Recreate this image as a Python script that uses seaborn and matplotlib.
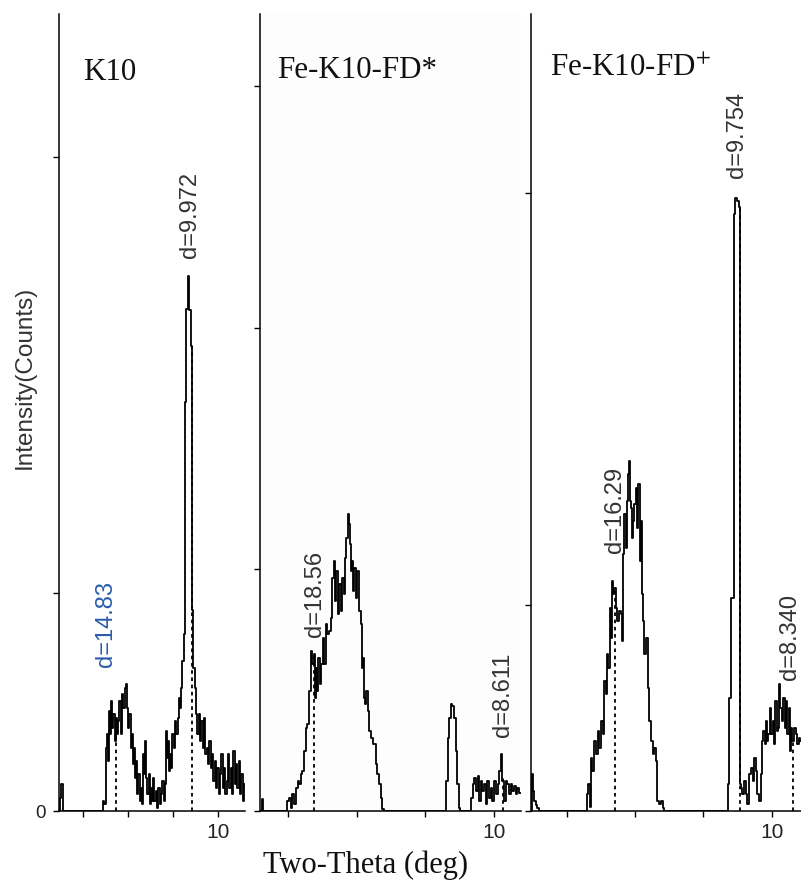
import numpy as np
import pandas as pd
import matplotlib
matplotlib.use("Agg")
import matplotlib.pyplot as plt
from matplotlib import font_manager
import seaborn as sns

# ---------------------------------------------------------------- data ----
# K10
k10_theta = [2.93, 3.01, 3.07, 3.13, 4.83, 4.90, 4.98, 5.02, 5.10, 5.13, 5.17, 5.23,
             5.27, 5.32, 5.38, 5.42, 5.47, 5.53, 5.57, 5.64, 5.70, 5.76, 5.82, 5.88,
             5.94, 5.99, 6.03, 6.09, 6.13, 6.19, 6.24, 6.28, 6.34, 6.39, 6.43, 6.49,
             6.53, 6.58, 6.64, 6.68, 6.73, 6.79, 6.83, 6.89, 6.93, 6.98, 7.04, 7.10,
             7.14, 7.20, 7.26, 7.32, 7.38, 7.44, 7.50, 7.56, 7.60, 7.66, 7.70, 7.75,
             7.81, 7.85, 7.90, 7.94, 8.00, 8.06, 8.12, 8.18, 8.22, 8.28, 8.33, 8.39,
             8.44, 8.50, 8.54, 8.56, 8.61, 8.68, 8.76, 8.83, 8.87, 8.95, 9.01, 9.05,
             9.11, 9.17, 9.23, 9.29, 9.35, 9.41, 9.47, 9.53, 9.59, 9.64, 9.70, 9.76,
             9.82, 9.88, 9.94, 10.00, 10.06, 10.12, 10.18, 10.24, 10.30, 10.36, 10.41,
             10.47, 10.53, 10.59, 10.65, 10.71, 10.77, 10.83, 10.89, 10.95, 11.01,
             11.07, 11.13, 11.20]
k10_counts = [0, 60, 124, 0, 0, 46, 32, 290, 354, 230, 460, 354,
              506, 382, 446, 322, 428, 354, 414, 506, 354, 538, 474, 566,
              584, 474, 382, 446, 290, 354, 216, 290, 152, 230, 78, 170,
              46, 106, 32, 262, 170, 322, 152, 78, 170, 32, 106, 46,
              152, 46, 92, 14, 106, 32, 78, 138, 46, 124, 368, 244,
              322, 184, 262, 198, 354, 290, 414, 354, 428, 520, 474, 566,
              690, 814, 814, 1877, 2305, 2456, 2300, 2134, 920, 658, 566, 446,
              354, 446, 322, 414, 290, 428, 262, 290, 216, 322, 198, 262,
              138, 230, 106, 198, 78, 170, 262, 106, 198, 78, 138,
              262, 106, 198, 78, 276, 124, 216, 106, 230, 78,
              170, 46, 124]

# Fe-K10-FD*
fd_star_theta = [3.17, 3.22, 3.24, 3.27,
                 3.95, 3.98, 4.04, 4.09, 4.14, 4.19, 4.24, 4.29, 4.34, 4.38,
                 4.43, 4.48, 4.53, 4.58, 4.63, 4.68, 4.72, 4.75, 4.79, 4.82,
                 4.85, 4.89, 4.93, 4.97, 5.02, 5.07, 5.11, 5.16, 5.21, 5.26,
                 5.31, 5.34, 5.38, 5.41, 5.46, 5.50, 5.55, 5.60, 5.63, 5.67,
                 5.70, 5.75, 5.78, 5.81, 5.84, 5.87, 5.91, 5.94, 5.99, 6.04,
                 6.09, 6.12, 6.16, 6.18, 6.21, 6.25, 6.29, 6.33, 6.38, 6.43,
                 6.48, 6.53, 6.57, 6.62, 6.67, 6.72, 6.77, 6.82,
                 8.57, 8.62, 8.67, 8.72, 8.76, 8.81, 8.86, 8.91, 8.96, 9.01, 9.03,
                 9.30, 9.35, 9.40, 9.45, 9.50, 9.54, 9.59, 9.64, 9.69, 9.74,
                 9.79, 9.83, 9.88, 9.93, 9.98, 10.03, 10.08, 10.13, 10.18, 10.22,
                 10.27, 10.32, 10.37, 10.42, 10.47, 10.52, 10.56, 10.61, 10.66, 10.71,
                 10.78]
fd_star_counts = [0, 0, 50, 0,
                  0, 41, 54, 12, 70, 29, 95, 124, 112, 153,
                  166, 248, 344, 360, 497, 662, 609, 650, 468, 592,
                  497, 633, 526, 609, 716, 609, 774, 733, 745, 799,
                  965, 1035, 869, 994, 816, 940, 828, 965, 898, 1047,
                  1130, 1230, 1188, 1105, 994, 1035, 911, 1006, 882, 994,
                  828, 774, 592, 633, 468, 443, 497, 414, 331, 302,
                  277, 277, 195, 153, 112, 54, 8, 0,
                  0, 124, 302, 385, 443, 435, 385, 248, 112, 12, 0,
                  0, 54, 112, 137, 83, 145, 41, 124, 83, 112,
                  29, 124, 54, 95, 41, 124, 70, 112, 166, 236,
                  124, 41, 124, 112, 70, 112, 83, 104, 70, 95,
                  75]

# Fe-K10-FD+
fd_plus_theta = [2.97, 3.00, 3.04, 3.08, 3.12, 3.16, 3.20,
                 4.59, 4.62, 4.66, 4.70, 4.73, 4.78, 4.83, 4.88, 4.93, 4.98,
                 5.03, 5.08, 5.13, 5.17, 5.20, 5.24, 5.28, 5.32, 5.35, 5.38,
                 5.42, 5.46, 5.51, 5.56, 5.61, 5.64, 5.67, 5.71, 5.74, 5.77,
                 5.81, 5.83, 5.86, 5.90, 5.93, 5.96, 6.00, 6.04, 6.08, 6.12,
                 6.15, 6.18, 6.21, 6.25, 6.29, 6.34, 6.39, 6.44, 6.49, 6.54,
                 6.58, 6.63, 6.68, 6.73, 6.78, 6.83, 6.88,
                 8.70, 8.71, 8.76, 8.83, 8.88, 8.90, 8.95, 9.02, 9.06, 9.07, 9.09,
                 9.11, 9.16, 9.21, 9.26, 9.31, 9.36, 9.41, 9.46, 9.51, 9.55,
                 9.60, 9.65, 9.70, 9.73, 9.77, 9.81, 9.84, 9.88, 9.92, 9.96,
                 10.00, 10.04, 10.08, 10.12, 10.16, 10.19, 10.23, 10.27, 10.31, 10.35,
                 10.39, 10.43, 10.47, 10.51, 10.55, 10.58, 10.62, 10.67, 10.72, 10.77,
                 10.82, 10.85]
fd_plus_counts = [0, 179, 97, 48, 30, 15, 0,
                  0, 82, 131, 19, 257, 194, 340, 276, 388, 306,
                  437, 373, 631, 567, 761, 694, 985, 839, 1116, 1052,
                  1082, 985, 922, 970, 955, 825, 1246, 1440, 1276, 1504,
                  1634, 1698, 1504, 1470, 1324, 1407, 1489, 1567, 1373, 1586,
                  1213, 1407, 1052, 922, 761, 839, 597, 437, 340, 276,
                  306, 243, 49, 32, 49, 16, 0,
                  0, 131, 548, 1033, 1033, 2900, 2978, 2960, 2930, 810, 131,
                  112, 82, 146, 82, 34, 179, 209, 146, 257, 194,
                  82, 49, 179, 340, 388, 325, 437, 340, 373, 500,
                  373, 437, 325, 534, 388, 403, 616, 500, 437, 548,
                  403, 534, 373, 500, 291, 403, 340, 403, 373, 325,
                  354, 340]

sample_names = ["K10", "Fe-K10-FD*", "Fe-K10-FD$^{+}$"]
peak_theta = [[5.47, 8.83], [4.75, 10.26], [5.42, 9.06, 10.61]]
peak_labels = [["d=14.83", "d=9.972"], ["d=18.56", "d=8.611"],
               ["d=16.29", "d=9.754", "d=8.340"]]
x_tick_values = [4, 6, 8, 10]

# --------------------------------------------------------------- layout ---
FIG_W, FIG_H = 801, 882
TOP_PX, BASE_PX = 14, 811
panel_px = [(59, 245), (260, 521), (531, 801)]
x_limits = [(2.93, 11.2), (3.17, 10.79), (2.96, 10.85)]
y_tops = [3656, 3300, 3869]
y_tick_sets = [[0, 1000, 3000], [0, 1000, 2000, 3000], [0, 1000, 3000]]
# where each d-spacing caption sits (2-theta, counts at its lower end)
label_anchor = [[(5.02, 661), (8.76, 2537)],
                [(4.77, 720), (10.26, 306)],
                [(5.42, 1251), (8.98, 3075), (10.53, 635)]]
label_colors = [["#2a5caa", "#333333"], ["#333333", "#333333"],
                ["#333333", "#333333", "#333333"]]
title_px = [(83, 80), (277, 78), (550, 76)]

sns.set_theme(style="white")
plt.rcParams["font.family"] = ["Liberation Sans", "DejaVu Sans"]
plt.rcParams["mathtext.fontset"] = "stix"
SERIF = ["Liberation Serif", "DejaVu Serif"]

# narrow sans for the d-spacing captions when it is installed
try:
    font_manager.findfont(font_manager.FontProperties(family="Liberation Sans Narrow"),
                          fallback_to_default=False)
    D_FAMILY, D_SIZE = ["Liberation Sans Narrow"], 19.5
except Exception:
    D_FAMILY, D_SIZE = ["Liberation Sans", "DejaVu Sans"], 17

fig = plt.figure(figsize=(FIG_W / 100, FIG_H / 100), dpi=100)
fig.patch.set_facecolor("white")

series = [(k10_theta, k10_counts), (fd_star_theta, fd_star_counts),
          (fd_plus_theta, fd_plus_counts)]

for i, (theta, counts) in enumerate(series):
    left, right = panel_px[i]
    ax = fig.add_axes([left / FIG_W, 1 - BASE_PX / FIG_H,
                       (right - left) / FIG_W, (BASE_PX - TOP_PX) / FIG_H])
    ax.set_facecolor("white" if i != 1 else "#fdfdfd")
    df = pd.DataFrame({"two_theta": theta, "counts": counts})
    sns.lineplot(data=df, x="two_theta", y="counts", ax=ax, color="black",
                 linewidth=1.3, drawstyle="steps-mid", estimator=None,
                 sort=False, zorder=3)

    # dotted peak markers up to the pattern
    for pt in peak_theta[i]:
        top = float(np.interp(pt, theta, counts))
        ax.plot([pt, pt], [0, top], color="black", lw=1.3,
                linestyle=(0, (2, 2)), zorder=2)
    for (lx, ly), txt, col in zip(label_anchor[i], peak_labels[i], label_colors[i]):
        ax.text(lx, ly, txt, rotation=90, ha="center", va="bottom",
                family=D_FAMILY, fontsize=D_SIZE, color=col, zorder=4)

    ax.set_xlim(*x_limits[i])
    ax.set_ylim(0, y_tops[i])
    ax.set_xticks(x_tick_values)
    ax.set_xticklabels(["" if v != 10 else "10" for v in x_tick_values])
    ax.set_yticks(y_tick_sets[i])
    ax.set_yticklabels(["0" if (v == 0 and i == 0) else "" for v in y_tick_sets[i]])
    ax.set_xlabel("")
    ax.set_ylabel("")
    for side in ("top", "right"):
        ax.spines[side].set_visible(False)
    for side in ("left", "bottom"):
        ax.spines[side].set_color("black")
        ax.spines[side].set_linewidth(1.1)
    ax.tick_params(axis="both", which="major", bottom=True, left=True,
                   top=False, right=False, direction="out", length=4.3,
                   width=1.0, colors="black", labelcolor="#222222")
    ax.tick_params(axis="x", labelsize=15, pad=4)
    ax.tick_params(axis="y", labelsize=13.5, pad=5)
    ax.grid(False)

    tx, ty = title_px[i]
    fig.text(tx / FIG_W, 1 - ty / FIG_H, sample_names[i], family=SERIF,
             fontsize=22.3, color="#111111", ha="left", va="baseline")

fig.text(25 / FIG_W, 1 - 377 / FIG_H, "Intensity(Counts)", rotation=90,
         ha="center", va="center", fontsize=17.5, color="#333333")
fig.text(263 / FIG_W, 1 - 873 / FIG_H, "Two-Theta (deg)", family=SERIF,
         fontsize=22, color="#111111", ha="left", va="baseline")

fig.savefig("out.png", dpi=100, facecolor="white")
